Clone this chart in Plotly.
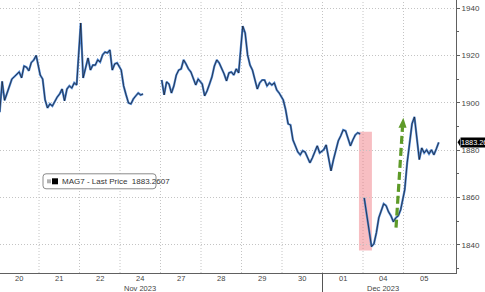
import plotly.graph_objects as go

# ---------------- data ----------------
day_labels = ["20", "21", "22", "24", "27", "28", "29", "30", "01", "04", "05"]
month_labels = ["Nov 2023", "Dec 2023"]
month_day_index = [3, 9]          # label centred under this day
month_break_index = 8             # first day of December

d20 = [1896.0, 1909.0, 1901.0, 1904.0, 1907.5, 1910.0, 1911.0, 1912.0,
       1913.0, 1910.5, 1915.5, 1915.0, 1913.5, 1917.0, 1918.0, 1920.0]
d21 = [1911.7, 1910.0, 1901.2, 1897.8, 1899.5, 1898.6, 1900.8, 1902.4,
       1903.7, 1905.8, 1900.8, 1905.8, 1907.1, 1906.2, 1908.4, 1907.5]
d22 = [1933.7, 1910.5, 1914.7, 1918.9, 1913.8, 1915.9, 1915.9, 1918.1,
       1917.2, 1920.2, 1921.4, 1921.0, 1922.3, 1913.8, 1916.4, 1916.8]
d24 = [1913.8, 1907.1, 1903.3, 1899.9, 1899.5, 1901.6, 1902.9, 1904.1,
       1903.3, 1903.7]
d27 = [1909.6, 1903.3, 1908.8, 1907.9, 1904.1, 1907.1, 1911.7, 1913.8,
       1914.3, 1918.1, 1916.4, 1914.3, 1913.0, 1910.5, 1907.5, 1910.0]
d28 = [1907.9, 1902.9, 1905.0, 1907.9, 1910.9, 1915.5, 1918.1, 1916.8,
       1914.7, 1912.2, 1909.2, 1912.6, 1913.0, 1911.7, 1914.3, 1912.6]
d29 = [1932.4, 1929.5, 1920.2, 1915.9, 1913.8, 1909.6, 1905.8, 1908.4,
       1909.6, 1909.6, 1907.1, 1908.4, 1907.5, 1908.4, 1905.4, 1904.1]
d30 = [1901.2, 1897.0, 1891.1, 1890.6, 1884.3, 1881.8, 1879.2, 1878.0,
       1879.7, 1879.2, 1877.1, 1874.6, 1876.7, 1879.2, 1881.8, 1878.8]
d01 = [1880.1, 1882.2, 1875.9, 1871.2, 1875.9, 1880.1, 1883.9, 1886.0,
       1888.5, 1888.1, 1885.1, 1881.8, 1884.3, 1886.4, 1887.3, 1886.8]
d04 = [1859.8, 1852.7, 1847.2, 1839.2, 1840.4, 1845.1, 1851.4, 1854.3,
       1857.3, 1856.5, 1853.9, 1852.2, 1849.7, 1851.4, 1852.2, 1854.8]
d05 = [1863.2, 1874.6, 1884.3, 1891.1, 1894.0, 1885.1, 1876.0, 1880.9,
       1878.8, 1880.1, 1878.4, 1880.1, 1878.0, 1880.5, 1883.2607]
day_values = [d20, d21, d22, d24, d27, d28, d29, d30, d01, d04, d05]
gap_after_days = [3, 8]           # no connecting line after these days

series_name = "MAG7 - Last Price"
last_price = day_values[-1][-1]

# highlighted gap (red box) and rebound arrow, in axis units
box_x = [8.90, 9.22]
box_y = [1837.6, 1887.7]
arrow_start = (9.815, 1847.2)
arrow_tip = (9.995, 1893.6)

y_ticks = [1840, 1860, 1880, 1900, 1920, 1940]
y_minor = [1830, 1850, 1870, 1890, 1910, 1930]
y_range = [1828.06, 1943.4]
x_range = [0.037, 11.296]

# ---------------- build series ----------------
STEP = 0.06
xs, ys = [], []
for i, vals in enumerate(day_values):
    for k, v in enumerate(vals):
        xs.append(i + 0.03 + STEP * k)
        ys.append(v)
    if i in gap_after_days:
        xs.append(None)
        ys.append(None)

FONT = "Liberation Sans, Arial, sans-serif"
fig = go.Figure()
fig.add_trace(go.Scatter(x=xs, y=ys, mode="lines", connectgaps=False,
                         line=dict(color="#4f88d4", width=2.2),
                         hoverinfo="skip", showlegend=False))
fig.add_trace(go.Scatter(x=xs, y=ys, mode="lines", connectgaps=False,
                         line=dict(color="#15161c", width=0.7),
                         name=series_name, showlegend=False))

shapes = []
# vertical day separators
for b in range(1, len(day_labels)):
    shapes.append(dict(type="line", xref="x", yref="paper", x0=b, x1=b,
                       y0=0, y1=1, layer="below",
                       line=dict(color="#c4c4c4", width=1, dash="1px,2px")))
# month separator below the axis
shapes.append(dict(type="line", xref="x", yref="paper",
                   x0=month_break_index, x1=month_break_index,
                   y0=0, y1=-0.075, line=dict(color="#555555", width=1)))
# red highlight box
shapes.append(dict(type="rect", xref="x", yref="y",
                   x0=box_x[0], x1=box_x[1], y0=box_y[0], y1=box_y[1],
                   fillcolor="rgba(238,110,120,0.45)", line=dict(width=0),
                   layer="below"))
# green dashed arrow
head_base_y = arrow_tip[1] - 4.2
head_base_x = arrow_tip[0] - 0.02
shapes.append(dict(type="line", xref="x", yref="y",
                   x0=arrow_start[0], y0=arrow_start[1],
                   x1=head_base_x, y1=head_base_y + 0.3,
                   line=dict(color="#5e9a28", width=3.2, dash="8px,4px")))
shapes.append(dict(type="path", xref="x", yref="y",
                   path=(f"M {head_base_x - 0.1},{head_base_y} "
                         f"L {head_base_x + 0.1},{head_base_y} "
                         f"L {arrow_tip[0]},{arrow_tip[1]} Z"),
                   fillcolor="#5e9a28", line=dict(width=0)))

# legend box (rounded rectangle) in paper coordinates
PW, PH = 456.0, 273.3
def px(x):
    return x / PW
def py(y):
    return 1 - y / PH
lx0, lx1, ly0, ly1, r = 43, 156, 174, 189, 3
path = (f"M {px(lx0 + r)},{py(ly0)} L {px(lx1 - r)},{py(ly0)} "
        f"Q {px(lx1)},{py(ly0)} {px(lx1)},{py(ly0 + r)} "
        f"L {px(lx1)},{py(ly1 - r)} Q {px(lx1)},{py(ly1)} {px(lx1 - r)},{py(ly1)} "
        f"L {px(lx0 + r)},{py(ly1)} Q {px(lx0)},{py(ly1)} {px(lx0)},{py(ly1 - r)} "
        f"L {px(lx0)},{py(ly0 + r)} Q {px(lx0)},{py(ly0)} {px(lx0 + r)},{py(ly0)} Z")
shapes.append(dict(type="path", xref="paper", yref="paper", path=path,
                   fillcolor="white", line=dict(color="#8a8a8a", width=1)))
shapes.append(dict(type="rect", xref="paper", yref="paper",
                   x0=px(47), x1=px(51), y0=py(183.5), y1=py(179.5),
                   fillcolor="#b0b0b0", line=dict(width=0)))
shapes.append(dict(type="rect", xref="paper", yref="paper",
                   x0=px(52), x1=px(58), y0=py(184.5), y1=py(178.5),
                   fillcolor="#000000", line=dict(width=0)))

annotations = []
annotations.append(dict(xref="paper", yref="paper", x=px(60), y=py(181.5),
                        xanchor="left", yanchor="middle", showarrow=False,
                        text=f"{series_name}  {last_price:.4f}",
                        font=dict(family=FONT, size=8, color="#333333")))
# day labels under the axis
for i, lab in enumerate(day_labels):
    annotations.append(dict(xref="x", yref="paper", x=i + 0.5, y=0,
                            yshift=-5.5, xanchor="center", yanchor="middle",
                            showarrow=False, text=lab,
                            font=dict(family=FONT, size=7.5, color="#444444")))
for name, idx in zip(month_labels, month_day_index):
    annotations.append(dict(xref="x", yref="paper", x=idx + 0.5, y=0,
                            yshift=-15, xanchor="center", yanchor="middle",
                            showarrow=False, text=name,
                            font=dict(family=FONT, size=7.5, color="#444444")))
# last price tag on the right axis
shapes.append(dict(type="path", xref="paper", yref="y",
                   path=(f"M {1 + 1.5 / PW},{last_price} "
                         f"L {1 + 4 / PW},{last_price + 1.6} "
                         f"L {1 + 4 / PW},{last_price - 1.6} Z"),
                   fillcolor="#000000", line=dict(width=0)))
annotations.append(dict(xref="paper", yref="y", x=1 + 3.5 / PW, y=last_price,
                        xanchor="left", yanchor="middle", showarrow=False,
                        text=f"{last_price:.2f}", bgcolor="#000000",
                        borderpad=0,
                        font=dict(family=FONT, size=7.3, color="#ffffff")))

fig.update_layout(
    width=485, height=292,
    margin=dict(l=0, r=29, t=0, b=19),
    paper_bgcolor="white", plot_bgcolor="white",
    showlegend=False,
    shapes=shapes, annotations=annotations,
    font=dict(family=FONT, size=8, color="#444444"),
    xaxis=dict(range=x_range, showticklabels=False, showgrid=False,
               zeroline=False, showline=True, linecolor="#606060",
               linewidth=1, ticks=""),
    yaxis=dict(range=y_range, side="right", tickmode="array",
               tickvals=y_ticks, showgrid=True, gridcolor="#c4c4c4",
               griddash="1px,2px", zeroline=False, showline=True,
               linecolor="#606060", linewidth=1, ticks="outside",
               ticklen=3, tickcolor="#606060",
               minor=dict(tickmode="array", tickvals=y_minor,
                          ticks="outside", ticklen=2, tickcolor="#606060",
                          showgrid=False),
               tickfont=dict(family=FONT, size=8, color="#444444")),
)

fig.write_html("out.html")
